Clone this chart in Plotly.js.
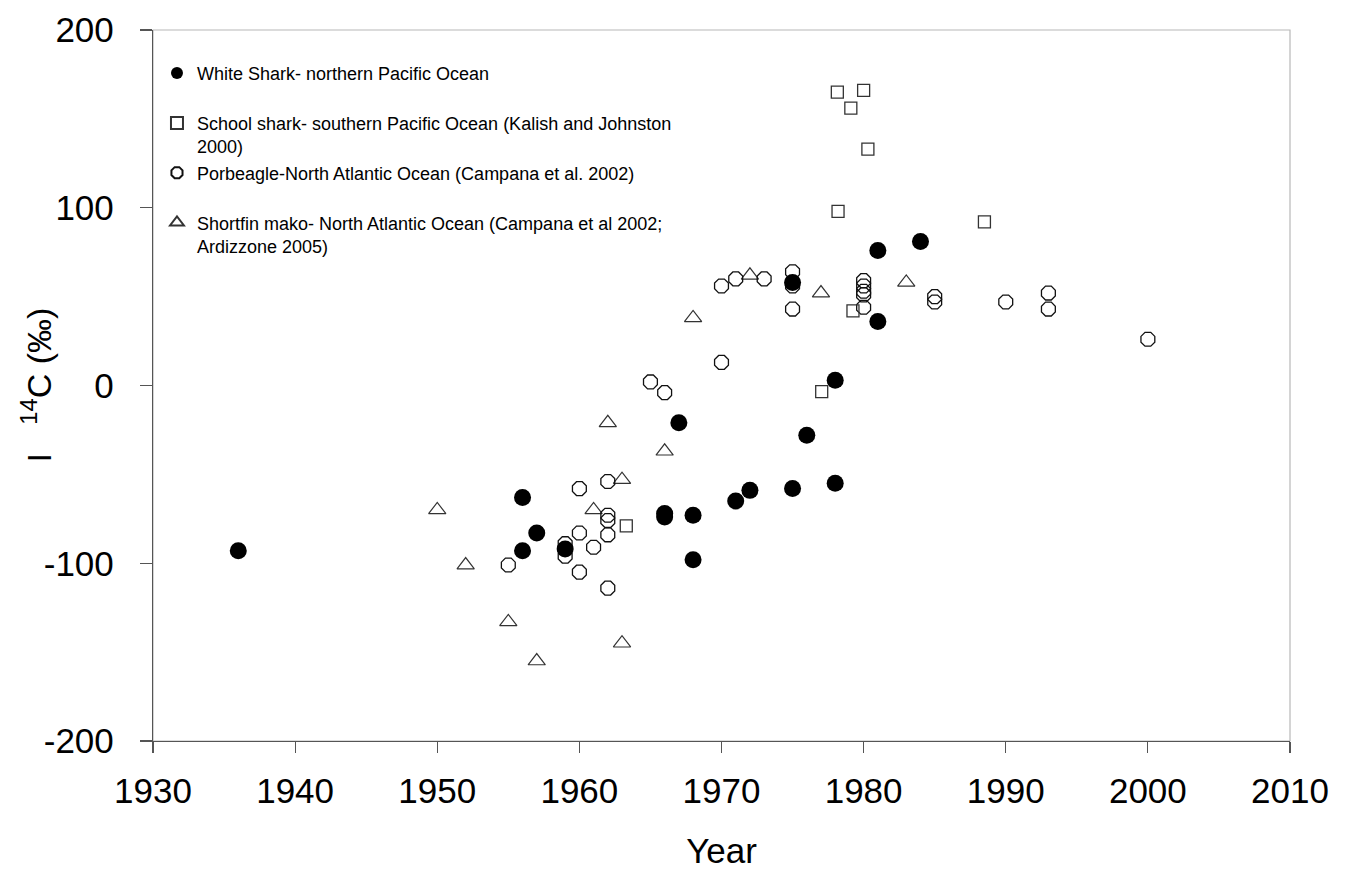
<!DOCTYPE html>
<html>
<head>
<meta charset="utf-8">
<script src="https://cdn.plot.ly/plotly-3.0.1.min.js"></script>
<style>
  html, body { margin: 0; padding: 0; background: #fff; }
  #chart { width: 1345px; height: 876px; }
</style>
</head>
<body>
<div id="chart"></div>
<script>
// ---- Data ----
const whiteYears = [1936, 1956, 1956, 1957, 1959, 1966, 1966, 1967, 1968, 1968, 1971, 1972, 1975, 1975, 1976, 1978, 1978, 1981, 1981, 1984];
const whiteC14   = [-93,  -63,  -93,  -83,  -92,  -72,  -74,  -21,  -73,  -98,  -65,  -59,  -58,   58,  -28,  -55,    3,   76,   36,   81];

const schoolYears = [1963.3, 1977.05, 1978.15, 1978.2, 1979.1, 1979.25, 1980, 1980.3, 1988.5];
const schoolC14   = [-79,    -3.5,    165,     98,     156,    42,      166,  133,    92];

const porbYears = [1955, 1959, 1959, 1960, 1960, 1960, 1961, 1962, 1962, 1962, 1962, 1962, 1965, 1966, 1970, 1970, 1971, 1973, 1975, 1975, 1975, 1980, 1980, 1980, 1980, 1980, 1985, 1985, 1990, 1993, 1993, 2000];
const porbC14   = [-101, -89,  -96,  -58,  -83,  -105, -91,  -54,  -73,  -76,  -84,  -114, 2,    -4,   13,   56,   60,   60,   64,   56,   43,   59,   56,   53,   51,   44,   50,   47,   47,   52,   43,   26];

const makoYears = [1950, 1952, 1955, 1957, 1961, 1962, 1963, 1963, 1966, 1968, 1972, 1977, 1983];
const makoC14   = [-70,  -101, -133, -155, -70,  -21,  -53,  -145, -37,  38,   62,   52,   58];

const seriesNames = [
  "White Shark- northern Pacific Ocean<br>&nbsp;",
  "School shark- southern Pacific Ocean (Kalish and Johnston<br>2000)",
  "Porbeagle-North Atlantic Ocean (Campana et al. 2002)<br>&nbsp;",
  "Shortfin mako- North Atlantic Ocean (Campana et al 2002;<br>Ardizzone 2005)"
];

const xTicks = [1930, 1940, 1950, 1960, 1970, 1980, 1990, 2000, 2010];
const yTicks = [-200, -100, 0, 100, 200];
const xTitle = 'Year';
const yTitle = 'I&nbsp;&nbsp; <sup>14</sup>C (‰)';

const FONT = '"Liberation Sans", Arial, sans-serif';

// Draw order: mako, porbeagle, school, white (white on top); legend reversed
const traces = [
  {
    x: makoYears, y: makoC14, type: 'scatter', mode: 'markers', name: seriesNames[3],
    marker: { symbol: 'triangle-up-open', size: 15, color: '#333', line: { width: 1.2, color: '#333' } }
  },
  {
    x: porbYears, y: porbC14, type: 'scatter', mode: 'markers', name: seriesNames[2],
    marker: { symbol: 'octagon-open', size: 15, color: '#111', line: { width: 1.3, color: '#111' } }
  },
  {
    x: schoolYears, y: schoolC14, type: 'scatter', mode: 'markers', name: seriesNames[1],
    marker: { symbol: 'square-open', size: 12, color: '#333', line: { width: 1.3, color: '#333' } }
  },
  {
    x: whiteYears, y: whiteC14, type: 'scatter', mode: 'markers', name: seriesNames[0],
    marker: { symbol: 'circle', size: 17, color: '#000' }
  }
];

const layout = {
  width: 1345, height: 876,
  margin: { l: 153, r: 55, t: 30, b: 135, pad: 0 },
  paper_bgcolor: '#fff', plot_bgcolor: '#fff',
  font: { family: FONT, color: '#000' },
  showlegend: true,
  legend: {
    x: 0.0035, y: 0.965, xanchor: 'left', yanchor: 'top',
    traceorder: 'reversed', valign: 'top', itemsizing: 'constant',
    bgcolor: 'rgba(0,0,0,0)', borderwidth: 0,
    font: { family: FONT, size: 18, color: '#000' }
  },
  xaxis: {
    range: [1930, 2010], tickvals: xTicks, ticktext: xTicks.map(String),
    showgrid: false, zeroline: false,
    showline: true, linecolor: '#555', linewidth: 1.2,
    ticks: 'outside', ticklen: 11, tickcolor: '#555', tickwidth: 1.2,
    tickfont: { family: FONT, size: 35, color: '#000' },
    ticklabelstandoff: 8,
    title: { text: xTitle, font: { family: FONT, size: 35, color: '#000' }, standoff: 29 }
  },
  yaxis: {
    range: [-200, 200], tickvals: yTicks, ticktext: yTicks.map(String),
    showgrid: false, zeroline: false,
    showline: true, linecolor: '#555', linewidth: 1.2,
    ticks: 'outside', ticklen: 12, tickcolor: '#555', tickwidth: 1.2,
    tickfont: { family: FONT, size: 35, color: '#000' },
    ticklabelstandoff: 19
  },
  annotations: [
    { text: yTitle, xref: 'paper', yref: 'paper', x: -0.1029, y: 0.5,
      xanchor: 'center', yanchor: 'middle', textangle: -90, showarrow: false,
      font: { family: FONT, size: 34, color: '#000' } }
  ],
  shapes: [
    { type: 'rect', xref: 'paper', yref: 'paper', x0: 0, x1: 1, y0: 0, y1: 1,
      line: { color: '#b8b8b8', width: 1.2 }, layer: 'below' }
  ]
};

Plotly.newPlot('chart', traces, layout, { staticPlot: true, displayModeBar: false });
</script>
</body>
</html>
